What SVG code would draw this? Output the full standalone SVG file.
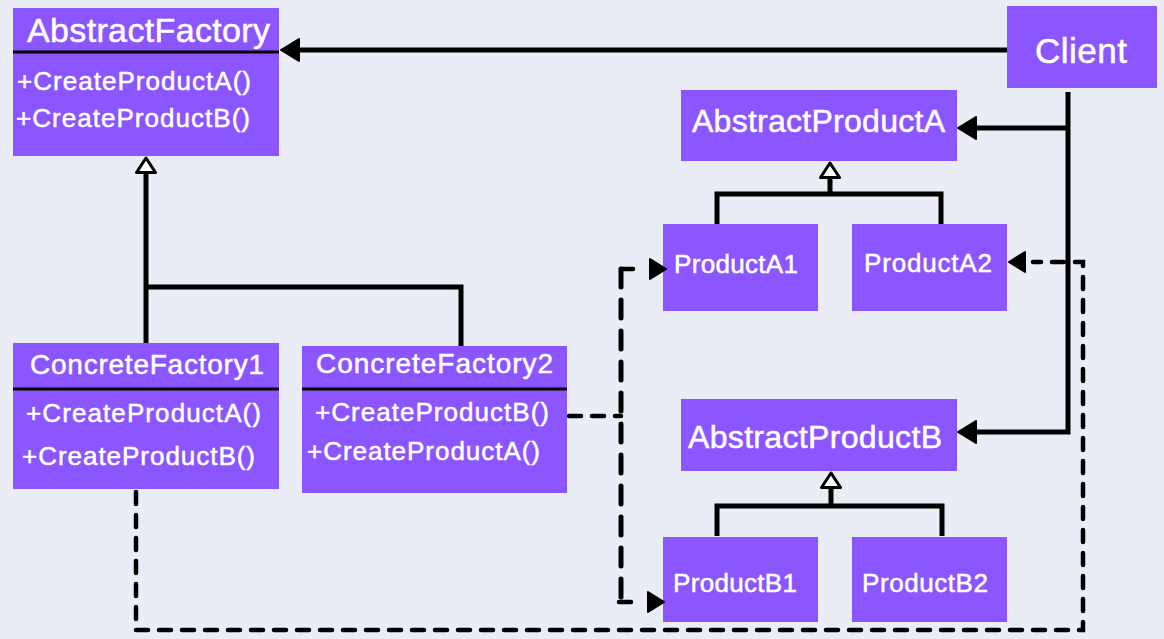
<svg xmlns="http://www.w3.org/2000/svg" width="1164" height="639" viewBox="0 0 1164 639">
<style>
.box{fill:#8b55ff;}
.div{stroke:#000;stroke-width:3;}
.t{font-family:"Liberation Sans",Arial,sans-serif;fill:#fff;stroke:#fff;stroke-width:0.5;}
.solid{fill:none;stroke:#000;stroke-width:5;stroke-linejoin:miter;}
.dash{fill:none;stroke:#000;stroke-width:4.5;stroke-dasharray:12 11;stroke-linecap:round;}
.dash2{fill:none;stroke:#000;stroke-width:5;stroke-dasharray:18 13;stroke-linecap:round;}
.head{fill:none;stroke:none;}
</style>
<defs>
<marker id="arr" markerUnits="userSpaceOnUse" viewBox="0 0 20 24" refX="1" refY="12" markerWidth="20" markerHeight="24" orient="auto">
<path d="M1,1 L19,12 L1,23 Z" fill="#000" stroke="#000" stroke-width="2" stroke-linejoin="round"/>
</marker>
<marker id="arrs" markerUnits="userSpaceOnUse" viewBox="0 0 18 22" refX="1" refY="11" markerWidth="18" markerHeight="22" orient="auto">
<path d="M1,1 L17,11 L1,21 Z" fill="#000" stroke="#000" stroke-width="2" stroke-linejoin="round"/>
</marker>
<marker id="gen" markerUnits="userSpaceOnUse" viewBox="0 0 18 22" refX="1" refY="11" markerWidth="18" markerHeight="22" orient="auto">
<path d="M1.5,1.5 L16,11 L1.5,20.5 Z" fill="#fff" stroke="#000" stroke-width="3" stroke-linejoin="round"/>
</marker>
</defs>
<rect x="0" y="0" width="1164" height="639" fill="#eaedf6"/>

<g id="AbstractFactory">
<rect class="box" x="13" y="8" width="266" height="148"/>
<line class="div" x1="13" y1="52" x2="279" y2="52"/>
<text class="t" x="27" y="42" font-size="34" textLength="243">AbstractFactory</text>
<text class="t" x="17" y="90" font-size="26" textLength="234">+CreateProductA()</text>
<text class="t" x="16" y="127" font-size="26" textLength="234">+CreateProductB()</text>
</g>

<g id="Client">
<rect class="box" x="1007" y="6" width="150" height="82"/>
<text class="t" x="1035" y="63" font-size="35" textLength="92">Client</text>
</g>

<g id="AbstractProductA">
<rect class="box" x="681" y="90" width="276" height="71"/>
<text class="t" x="692" y="132" font-size="32" textLength="253">AbstractProductA</text>
</g>

<g id="ProductA1">
<rect class="box" x="663" y="224" width="155" height="87"/>
<text class="t" x="674" y="273" font-size="26" textLength="124">ProductA1</text>
</g>

<g id="ProductA2">
<rect class="box" x="852" y="224" width="155" height="87"/>
<text class="t" x="864" y="272" font-size="26" textLength="128">ProductA2</text>
</g>

<g id="AbstractProductB">
<rect class="box" x="681" y="399" width="276" height="72"/>
<text class="t" x="688" y="448" font-size="32" textLength="254">AbstractProductB</text>
</g>

<g id="ProductB1">
<rect class="box" x="663" y="537" width="155" height="85"/>
<text class="t" x="673" y="592" font-size="26" textLength="124">ProductB1</text>
</g>

<g id="ProductB2">
<rect class="box" x="852" y="537" width="155" height="85"/>
<text class="t" x="862" y="592" font-size="26" textLength="126">ProductB2</text>
</g>

<g id="ConcreteFactory1">
<rect class="box" x="13" y="343" width="266" height="146"/>
<line class="div" x1="13" y1="389" x2="279" y2="389"/>
<text class="t" x="30" y="374" font-size="28" textLength="234">ConcreteFactory1</text>
<text class="t" x="26" y="422" font-size="26" textLength="235">+CreateProductA()</text>
<text class="t" x="22" y="465" font-size="26" textLength="233">+CreateProductB()</text>
</g>

<g id="ConcreteFactory2">
<rect class="box" x="302" y="346" width="265" height="147"/>
<line class="div" x1="302" y1="389" x2="567" y2="389"/>
<text class="t" x="316" y="373" font-size="28" textLength="237">ConcreteFactory2</text>
<text class="t" x="315" y="421" font-size="26" textLength="234">+CreateProductB()</text>
<text class="t" x="307" y="460" font-size="26" textLength="233">+CreateProductA()</text>
</g>

<g id="connectors">
<path class="solid" d="M1007,50 H299" marker-end="url(#arr)"/>
<path class="solid" d="M1068,92 V432 H976" marker-end="url(#arr)"/>
<path class="solid" d="M1068,128 H976" marker-end="url(#arr)"/>
<path class="solid" d="M146,343 V173" marker-end="url(#gen)"/>
<path class="solid" d="M461,346 V287 H146"/>
<path class="solid" d="M830,194 V178" marker-end="url(#gen)"/>
<path class="solid" d="M717,224 V194 H941 V224"/>
<path class="solid" d="M831,506 V488" marker-end="url(#gen)"/>
<path class="solid" d="M717,536 V506 H942 V536"/>
<path class="dash" d="M136,492 V630 H1083 V262 H1033"/>
<path class="head" d="M1030,262 H1025" marker-end="url(#arrs)"/>
<path class="dash" d="M569,416 H621"/>
<path class="dash2" d="M621,269 V602"/>
<path class="dash" d="M621,269 H640"/>
<path class="dash" d="M619,602 H638"/>
<path class="head" d="M645,269 H650" marker-end="url(#arrs)"/>
<path class="head" d="M643,602 H648" marker-end="url(#arrs)"/>
</g>
</svg>
